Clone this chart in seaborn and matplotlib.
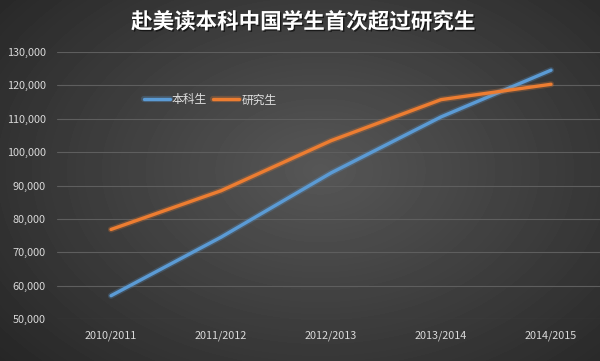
import numpy as np
import pandas as pd
import seaborn as sns
import matplotlib.pyplot as plt
import matplotlib.patheffects as pe

sns.set_style('dark')
plt.rcParams['font.family'] = ['Noto Sans CJK SC', 'DejaVu Sans']

# Data
years = ['2010/2011', '2011/2012', '2012/2013', '2013/2014', '2014/2015']
undergrad = [56976, 74516, 93768, 110550, 124552]
graduate = [76830, 88429, 103427, 115727, 120331]
series_names = ['本科生', '研究生']
yticks = [50000, 60000, 70000, 80000, 90000, 100000, 110000, 120000, 130000]

df = pd.DataFrame({
    'year': years * 2,
    'pos': list(range(len(years))) * 2,
    'value': undergrad + graduate,
    'series': [series_names[0]] * len(years) + [series_names[1]] * len(years),
})

fig = plt.figure(figsize=(6, 3.61), dpi=100)

# radial dark-grey background
bg = fig.add_axes([0, 0, 1, 1])
yy, xx = np.mgrid[0:361, 0:600]
r = np.sqrt(((xx - 320) / 380.0) ** 2 + ((yy - 170) / 260.0) ** 2)
shade = np.clip(0.34 - 0.17 * r, 0.13, 0.34)
bg.imshow(shade, cmap='gray', vmin=0, vmax=1, aspect='auto', extent=[0, 1, 0, 1])
bg.axis('off')

ax = fig.add_axes([57 / 600, 1 - 319 / 361, 543 / 600, (319 - 52) / 361])
ax.patch.set_alpha(0)

sns.lineplot(data=df, x='pos', y='value', hue='series',
             palette=['#5b9bd5', '#ed7d31'], linewidth=2.4, ax=ax,
             legend=True)
for ln in ax.lines:
    ln.set_path_effects([pe.Stroke(linewidth=4.5, foreground=ln.get_color(), alpha=0.25),
                         pe.Normal()])
    ln.set_solid_capstyle('round')

ax.set_xlim(-0.491, 4.445)
ax.set_ylim(50000, 130000)
ax.set_yticks(yticks)
ax.set_yticklabels([f'{v:,}' for v in yticks])
ax.set_xticks(range(len(years)))
ax.set_xticklabels(years)
ax.set_xlabel('')
ax.set_ylabel('')
ax.grid(axis='y', color='#5e5e5e', linewidth=0.8)
ax.grid(axis='x', visible=False)
for s in ax.spines.values():
    s.set_visible(False)
ax.tick_params(axis='both', colors='#d9d9d9', labelsize=7.8, length=0)
ax.tick_params(axis='y', pad=8)
ax.tick_params(axis='x', pad=8)

leg = ax.legend(loc='center left', bbox_to_anchor=(133 / 600, 1 - 100 / 361),
                bbox_transform=fig.transFigure, ncol=2, frameon=False,
                fontsize=8.5, handlelength=2.2, handletextpad=0.2,
                columnspacing=0.5)
for t in leg.get_texts():
    t.set_color('#e0e0e0')
for h in leg.get_lines():
    h.set_linewidth(2.4)

fig.text(0.505, 1 - 22 / 361, '赴美读本科中国学生首次超过研究生', ha='center', va='center',
         color='white', fontsize=15.5, fontweight='bold',
         path_effects=[pe.withSimplePatchShadow(offset=(1, -1), shadow_rgbFace='black', alpha=0.6)])

fig.savefig('out.png', dpi=100)
